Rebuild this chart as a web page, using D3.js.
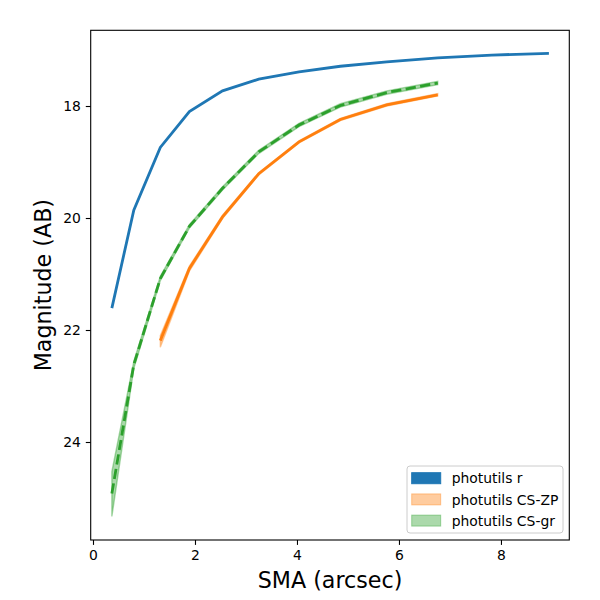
<!DOCTYPE html>
<html>
<head>
<meta charset="utf-8">
<script src="https://cdn.jsdelivr.net/npm/d3@7"></script>
<style>
  body { margin: 0; background: #fff; }
  svg { font-family: "DejaVu Sans", sans-serif; }
</style>
</head>
<body>
<div id="chart"></div>
<script>
// semi-major axis grid (arcsec)
var rSma = [0.37, 0.80, 1.32, 1.89, 2.54, 3.25, 4.04, 4.85, 5.76, 6.76, 7.82, 8.94];
var rMag = [21.61, 19.86, 18.74, 18.10, 17.73, 17.52, 17.39, 17.29, 17.21, 17.14, 17.09, 17.06];

var zpSma = [1.32, 1.89, 2.54, 3.25, 4.04, 4.85, 5.76, 6.76];
var zpMag = [22.19, 20.90, 19.98, 19.21, 18.64, 18.24, 17.98, 17.80];
var zpLo  = [22.10, 20.86, 19.95, 19.19, 18.62, 18.22, 17.96, 17.78];
var zpHi  = [22.31, 20.95, 20.01, 19.23, 18.66, 18.26, 18.00, 17.82];

var grSma = [0.37, 0.80, 1.32, 1.89, 2.54, 3.25, 4.04, 4.85, 5.76, 6.76];
var grMag = [24.92, 22.62, 21.08, 20.15, 19.47, 18.82, 18.34, 17.99, 17.76, 17.59];
var grLo  = [24.53, 22.56, 21.04, 20.12, 19.44, 18.79, 18.31, 17.96, 17.73, 17.56];
var grHi  = [25.33, 22.69, 21.12, 20.18, 19.50, 18.85, 18.37, 18.02, 17.79, 17.62];

var legendLabels = ["photutils r", "photutils CS-ZP", "photutils CS-gr"];
var xTicks = [0, 2, 4, 6, 8];
var yTicks = [18, 20, 22, 24];

var colors = ["#1f77b4", "#ff7f0e", "#2ca02c"];

var W = 600, H = 600;
var mLeft = 90.7, mRight = 569.3, mTop = 30.3, mBottom = 540;

var svg = d3.select("#chart").append("svg")
  .attr("width", W)
  .attr("height", H);

var x = d3.scaleLinear().domain([-0.045, 9.34]).range([mLeft, mRight]);
var y = d3.scaleLinear().domain([16.648, 25.75]).range([mTop, mBottom]);

function pts(xs, ys) {
  return xs.map(function(d, i) { return [d, ys[i]]; });
}

var line = d3.line()
  .x(function(d) { return x(d[0]); })
  .y(function(d) { return y(d[1]); });

var area = d3.area()
  .x(function(d) { return x(d.x); })
  .y0(function(d) { return y(d.lo); })
  .y1(function(d) { return y(d.hi); });

function band(xs, lo, hi) {
  return xs.map(function(d, i) { return {x: d, lo: lo[i], hi: hi[i]}; });
}

var plot = svg.append("g");

// r profile
plot.append("path")
  .attr("d", line(pts(rSma, rMag)))
  .attr("fill", "none")
  .attr("stroke", colors[0])
  .attr("stroke-width", 2.8);

// CS-ZP band + line
plot.append("path")
  .attr("d", area(band(zpSma, zpLo, zpHi)))
  .attr("fill", colors[1])
  .attr("fill-opacity", 0.4)
  .attr("stroke", colors[1])
  .attr("stroke-opacity", 0.4)
  .attr("stroke-width", 1.4);
plot.append("path")
  .attr("d", line(pts(zpSma, zpMag)))
  .attr("fill", "none")
  .attr("stroke", colors[1])
  .attr("stroke-width", 2.8);

// CS-gr band + dashed line
plot.append("path")
  .attr("d", area(band(grSma, grLo, grHi)))
  .attr("fill", colors[2])
  .attr("fill-opacity", 0.4)
  .attr("stroke", colors[2])
  .attr("stroke-opacity", 0.4)
  .attr("stroke-width", 1.4);
plot.append("path")
  .attr("d", line(pts(grSma, grMag)))
  .attr("fill", "none")
  .attr("stroke", colors[2])
  .attr("stroke-width", 2.8)
  .attr("stroke-dasharray", "10.3,4.4");

// frame
svg.append("rect")
  .attr("x", mLeft).attr("y", mTop)
  .attr("width", mRight - mLeft).attr("height", mBottom - mTop)
  .attr("fill", "none")
  .attr("stroke", "#000")
  .attr("stroke-width", 1.1);

// axes
var xAxis = d3.axisBottom(x).tickValues(xTicks).tickSize(4.9).tickPadding(4.9)
  .tickFormat(d3.format("d"));
var gx = svg.append("g").attr("transform", "translate(0," + mBottom + ")").call(xAxis);
var yAxis = d3.axisLeft(y).tickValues(yTicks).tickSize(4.9).tickPadding(4.9)
  .tickFormat(d3.format("d"));
var gy = svg.append("g").attr("transform", "translate(" + mLeft + ",0)").call(yAxis);

[gx, gy].forEach(function(g) {
  g.select(".domain").remove();
  g.selectAll(".tick line").attr("stroke", "#000").attr("stroke-width", 1.1);
  g.selectAll(".tick text")
    .attr("fill", "#000")
    .style("font-size", "13.9px")
    .style("font-family", "DejaVu Sans");
});

// axis labels
svg.append("text")
  .attr("x", (mLeft + mRight) / 2)
  .attr("y", 588)
  .attr("text-anchor", "middle")
  .style("font-size", "22.2px")
  .text("SMA (arcsec)");

svg.append("text")
  .attr("transform", "translate(51," + ((mTop + mBottom) / 2) + ") rotate(-90)")
  .attr("text-anchor", "middle")
  .style("font-size", "22.2px")
  .text("Magnitude (AB)");

// legend
var lg = svg.append("g").attr("transform", "translate(407,466)");
lg.append("rect")
  .attr("width", 156).attr("height", 67)
  .attr("rx", 3).attr("ry", 3)
  .attr("fill", "#fff").attr("fill-opacity", 0.8)
  .attr("stroke", "#cccccc").attr("stroke-width", 1);

var legendAlpha = [1, 0.4, 0.4];
legendLabels.forEach(function(label, i) {
  var row = lg.append("g").attr("transform", "translate(0," + (12.3 + i * 21.2) + ")");
  row.append("rect")
    .attr("x", 4.7).attr("y", -5.6)
    .attr("width", 29).attr("height", 11)
    .attr("fill", colors[i]).attr("fill-opacity", legendAlpha[i])
    .attr("stroke", colors[i]).attr("stroke-opacity", legendAlpha[i]);
  row.append("text")
    .attr("x", 44.7).attr("y", 0)
    .attr("dy", "0.36em")
    .style("font-size", "13.9px")
    .attr("fill", "#000")
    .text(label);
});
</script>
</body>
</html>
